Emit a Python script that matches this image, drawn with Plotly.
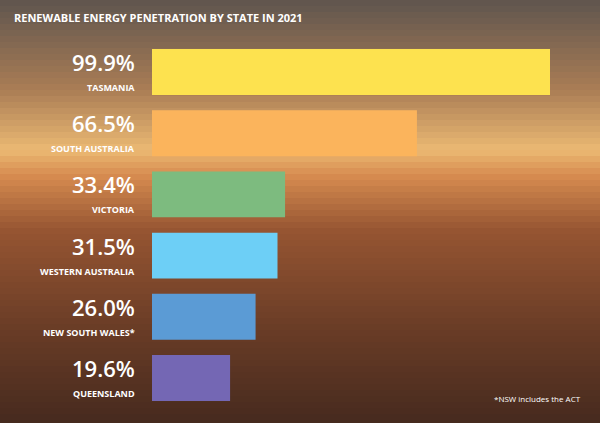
import plotly.graph_objects as go

states = ["TASMANIA", "SOUTH AUSTRALIA", "VICTORIA", "WESTERN AUSTRALIA", "NEW SOUTH WALES*", "QUEENSLAND"]
values = [99.9, 66.5, 33.4, 31.5, 26.0, 19.6]
colors = ["#FDE24F", "#FBB45C", "#7DBB7F", "#6DCFF6", "#5B9BD5", "#7467B4"]

W, H = 600, 423
fig = go.Figure(go.Bar(x=values, y=states, orientation="h", marker=dict(color=colors, line=dict(width=0)),
                       width=0.75, hoverinfo="skip"))

stops = [(0, (95, 85, 78)), (90, (170, 125, 85)), (150, (235, 185, 115)), (175, (215, 140, 80)),
         (230, (150, 85, 50)), (330, (105, 60, 38)), (423, (70, 42, 30))]
def col(y):
    for (y0, c0), (y1, c1) in zip(stops, stops[1:]):
        if y0 <= y <= y1:
            t = (y - y0) / (y1 - y0)
            return "rgb(%d,%d,%d)" % tuple(round(a + (b - a) * t) for a, b in zip(c0, c1))
    return "rgb(70,42,30)"
shapes = []
step = 6
for y in range(0, H, step):
    shapes.append(dict(type="rect", xref="paper", yref="paper", x0=0, x1=1,
                       y0=1 - (y + step) / H, y1=1 - y / H, fillcolor=col(y + step / 2),
                       line=dict(width=0), layer="below"))

ann = [dict(text="RENEWABLE ENERGY PENETRATION BY STATE IN 2021", xref="paper", yref="paper",
            x=12 / W, y=1 - 18 / H, xanchor="left", yanchor="middle", showarrow=False,
            font=dict(family="Open Sans", size=11, color="white", weight="bold")),
       dict(text="*NSW includes the ACT", xref="paper", yref="paper", x=583 / W, y=1 - 398 / H,
            xanchor="right", yanchor="middle", showarrow=False,
            font=dict(family="Open Sans", size=8, color="white"))]
for s, v in zip(states, values):
    ann.append(dict(text="%.1f%%" % v, xref="paper", yref="y", x=137 / W, y=s, xanchor="right",
                    yanchor="bottom", yshift=-7, showarrow=False,
                    font=dict(family="Open Sans", size=22, color="white", weight=600)))
    ann.append(dict(text=s, xref="paper", yref="y", x=137 / W, y=s, xanchor="right",
                    yanchor="top", yshift=-7, showarrow=False,
                    font=dict(family="Open Sans", size=9, color="white", weight="bold")))

fig.update_layout(width=W, height=H, margin=dict(l=0, r=0, t=0, b=0),
                  paper_bgcolor="rgb(90,60,45)", plot_bgcolor="rgba(0,0,0,0)",
                  shapes=shapes, annotations=ann, showlegend=False,
                  xaxis=dict(domain=[152 / W, 550 / W], range=[0, 99.9], visible=False, fixedrange=True),
                  yaxis=dict(domain=[1 - 408.6 / H, 1 - 41.4 / H], range=[5.5, -0.5], visible=False,
                             fixedrange=True, categoryorder="array", categoryarray=states))
fig.write_html("out.html", config=dict(displayModeBar=False))
with open("out.html") as f:
    html = f.read()
html = html.replace("<head>", "<head><style>body{margin:0;padding:0;overflow:hidden}</style>", 1)
with open("out.html", "w") as f:
    f.write(html)
